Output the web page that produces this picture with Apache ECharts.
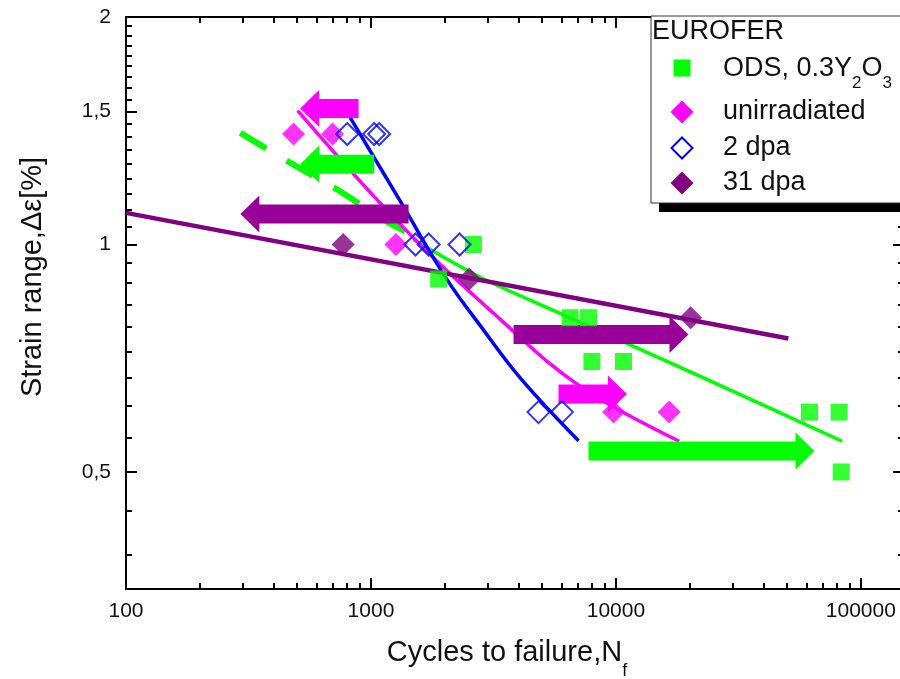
<!DOCTYPE html>
<html><head><meta charset="utf-8">
<script src="https://cdn.jsdelivr.net/npm/echarts@6/dist/echarts.min.js"></script>
<style>html,body{margin:0;padding:0;background:#fff}#c{width:900px;height:679px}</style>
</head><body><div id="c"></div>
<script>
// ---- data ----
const xTickLabels = [100, 1000, 10000, 100000];
const yTickLabels = [0.5, 1, 1.5, 2];

const odsPoints = [[2620,1.0],[1890,0.90],[6500,0.80],[7730,0.80],[7980,0.70],[10740,0.70],[61700,0.60],[81500,0.60],[83100,0.50]];
const unirrPoints = [[483,1.40],[697,1.40],[1265,1.0],[9780,0.60],[16500,0.60]];
const dpa2Points = [[800,1.40],[1030,1.40],[1080,1.40],[1520,1.0],[1720,1.0],[2300,1.0],[4830,0.60],[6020,0.60]];
const dpa31Points = [[770,1.0],[2520,0.90],[20200,0.80]];

const odsFitDashed = [[293,1.405],[460,1.287],[729,1.182],[1177,1.069],[1488,1.028]];
const odsFitSolid = [[1488,1.015],[2794,0.905],[6325,0.803],[22080,0.669],[83900,0.549]];
const unirrFit = [[502,1.504],[1380,1.047],[3372,0.796],[7150,0.649],[18130,0.549]];
const dpa2Fit = [[823,1.472],[1317,1.141],[2042,0.899],[2794,0.781],[4066,0.666],[7036,0.550]];
const dpa31Fit = [[100,1.101],[50600,0.751]];

// arrows: [tail N, tip N, strain]
const odsArrows = [[1031,514,1.277],[7730,64660,0.533]];
const unirrArrows = [[890,514,1.513],[5830,11090,0.634]];
const dpa31Arrows = [[1424,293,1.097],[3820,19780,0.760]];

// ---- axis helpers ----
const X_MIN = 100, X_MAX = 150000, Y_MIN = 0.35, Y_MAX = 2;
const xMinor = [];
xTickLabels.forEach(d => { for (let m = 2; m <= 9; m++) { const v = d * m; if (v > X_MIN && v < X_MAX) xMinor.push(v); } });
const yMinor = [];
const yStep = 0.5 / 9;
yTickLabels.forEach(t => { for (let k = 1; k <= 8; k++) { const v = t - k * yStep; if (v > Y_MIN && v > t - 0.5 + 1e-6) yMinor.push(v); } });
for (let k = 1; k <= 8; k++) { const v = 0.5 - k * yStep; if (v > Y_MIN) yMinor.push(v); }

const BLACK = '#000';
const FONT = 'Liberation Sans, Arial';
function xAxisDef(pos, major, labels) {
  return {
    type: 'log', logBase: 10, min: X_MIN, max: X_MAX, position: pos, offset: 0,
    axisLine: { show: major, onZero: false, lineStyle: { color: BLACK, width: 2 } },
    axisTick: { show: true, inside: true, length: major ? 11 : 6, customValues: major ? xTickLabels : xMinor, lineStyle: { color: BLACK, width: 2 } },
    axisLabel: { show: labels, customValues: xTickLabels, margin: 12, color: '#111', fontSize: 21, fontFamily: FONT, formatter: v => String(Math.round(v)) },
    splitLine: { show: false }, minorTick: { show: false }
  };
}
function yAxisDef(pos, major, labels) {
  return {
    type: 'log', logBase: 10, min: Y_MIN, max: Y_MAX, position: pos, offset: 0,
    axisLine: { show: major, onZero: false, lineStyle: { color: BLACK, width: 2 } },
    axisTick: { show: true, inside: true, length: major ? 11 : 6, customValues: major ? yTickLabels : yMinor, lineStyle: { color: BLACK, width: 2 } },
    axisLabel: { show: labels, customValues: yTickLabels, margin: 15, color: '#111', fontSize: 21, fontFamily: FONT, formatter: v => String(+(+v).toFixed(2)).replace('.', ',') },
    splitLine: { show: false }, minorTick: { show: false }
  };
}

function arrowSeries(name, data, color) {
  return {
    type: 'custom', name: name, z: 3, data: data, encode: { x: [0, 1], y: 2 },
    renderItem: function (params, api) {
      const p0 = api.coord([api.value(0), api.value(2)]);
      const p1 = api.coord([api.value(1), api.value(2)]);
      const dir = p1[0] > p0[0] ? 1 : -1;
      const bh = 9.5, hh = 18.5, hl = 19;
      const xb = p1[0] - dir * hl, y = p0[1];
      return { type: 'polygon', shape: { points: [[p0[0], y - bh], [xb, y - bh], [xb, y - hh], [p1[0], y], [xb, y + hh], [xb, y + bh], [p0[0], y + bh]] }, style: { fill: color } };
    }
  };
}

const GREEN = '#00ff00', MAG = '#ff00ff', BLUE = '#0000ff', PURP = '#800080', PURP_A = '#990099';

function diamondPts(cx, cy, h) { return [[cx, cy - h], [cx + h, cy], [cx, cy + h], [cx - h, cy]]; }

const option = {
  backgroundColor: '#fff',
  animation: false,
  grid: { left: 126, top: 17, width: 778, height: 572, outerBoundsMode: 'none', containLabel: false },
  xAxis: [xAxisDef('bottom', true, true), xAxisDef('bottom', false, false), xAxisDef('top', true, false), xAxisDef('top', false, false)],
  yAxis: [yAxisDef('left', true, true), yAxisDef('left', false, false), yAxisDef('right', true, false), yAxisDef('right', false, false)],
  series: [
    { type: 'line', name: 'ODS fit ext', data: odsFitDashed, z: 2, symbol: 'none', lineStyle: { color: GREEN, width: 6, type: [30, 24] } },
    { type: 'line', name: 'ODS fit', data: odsFitSolid, z: 2, symbol: 'none', smooth: 0.3, lineStyle: { color: GREEN, width: 3.5 } },
    { type: 'line', name: 'unirradiated fit', data: unirrFit, z: 2, symbol: 'none', smooth: 0.4, lineStyle: { color: MAG, width: 3.5 } },
    { type: 'line', name: '2 dpa fit', data: dpa2Fit, z: 2, symbol: 'none', smooth: 0.4, lineStyle: { color: BLUE, width: 3.5 } },
    { type: 'line', name: '31 dpa fit', data: dpa31Fit, z: 2, symbol: 'none', lineStyle: { color: PURP, width: 4.5 } },
    arrowSeries('ODS arrows', odsArrows, GREEN),
    arrowSeries('unirradiated arrows', unirrArrows, MAG),
    arrowSeries('31 dpa arrows', dpa31Arrows, PURP_A),
    { type: 'scatter', name: 'ODS, 0.3Y2O3', data: odsPoints, z: 4, symbol: 'rect', symbolSize: 17, itemStyle: { color: GREEN } },
    { type: 'scatter', name: 'unirradiated', data: unirrPoints, z: 4, symbol: 'diamond', symbolSize: 23, itemStyle: { color: MAG } },
    { type: 'scatter', name: '2 dpa', data: dpa2Points, z: 4, symbol: 'diamond', symbolSize: 22, itemStyle: { color: 'rgba(0,0,0,0)', borderColor: BLUE, borderWidth: 2 } },
    { type: 'scatter', name: '31 dpa', data: dpa31Points, z: 4, symbol: 'diamond', symbolSize: 23, itemStyle: { color: PURP } }
  ],
  graphic: [
    { type: 'text', z: 10, x: 33, y: 277, rotation: Math.PI / 2,
      style: { text: 'Strain range,\u0394\u03b5[%]', font: '29px ' + FONT, fill: '#111', align: 'center', verticalAlign: 'middle' } },
    { type: 'text', z: 10, x: 507, y: 636,
      style: { text: 'Cycles to failure,N{s|f}', align: 'center', verticalAlign: 'top', fill: '#111',
        rich: { s: { fontSize: 18, fontFamily: FONT, fill: '#111', lineHeight: 18, verticalAlign: 'top', padding: [26, 0, 0, 0] } },
        fontSize: 29, fontFamily: FONT, lineHeight: 34 } },
    // legend box
    { type: 'rect', z: 20, shape: { x: 659, y: 24, width: 260, height: 188 }, style: { fill: '#000' } },
    { type: 'rect', z: 21, shape: { x: 651, y: 16, width: 260, height: 187 }, style: { fill: '#fff', stroke: '#333', lineWidth: 1 } },
    { type: 'text', z: 22, x: 652, y: 32, style: { text: 'EUROFER', font: '27px ' + FONT, fill: '#111', verticalAlign: 'middle' } },
    { type: 'rect', z: 22, shape: { x: 673.5, y: 59.5, width: 17, height: 17 }, style: { fill: GREEN } },
    { type: 'text', z: 22, x: 723, y: 55,
      style: { text: 'ODS, 0.3Y{s|2}O{s|3}', fill: '#111', verticalAlign: 'top', fontSize: 27, fontFamily: FONT, lineHeight: 28,
        rich: { s: { fontSize: 17, fontFamily: FONT, fill: '#111', lineHeight: 17, verticalAlign: 'top', padding: [20, 0, 0, 0] } } } },
    { type: 'polygon', z: 22, shape: { points: diamondPts(682, 112, 11.5) }, style: { fill: MAG } },
    { type: 'text', z: 22, x: 723, y: 112, style: { text: 'unirradiated', font: '27px ' + FONT, fill: '#111', verticalAlign: 'middle' } },
    { type: 'polygon', z: 22, shape: { points: diamondPts(682, 148, 10.5) }, style: { fill: '#fff', stroke: BLUE, lineWidth: 2 } },
    { type: 'text', z: 22, x: 723, y: 148, style: { text: '2 dpa', font: '27px ' + FONT, fill: '#111', verticalAlign: 'middle' } },
    { type: 'polygon', z: 22, shape: { points: diamondPts(682, 183, 11.5) }, style: { fill: PURP } },
    { type: 'text', z: 22, x: 723, y: 183, style: { text: '31 dpa', font: '27px ' + FONT, fill: '#111', verticalAlign: 'middle' } }
  ]
};

const chart = echarts.init(document.getElementById('c'), null, { renderer: 'canvas', width: 900, height: 679 });
chart.setOption(option);
</script>
</body></html>
